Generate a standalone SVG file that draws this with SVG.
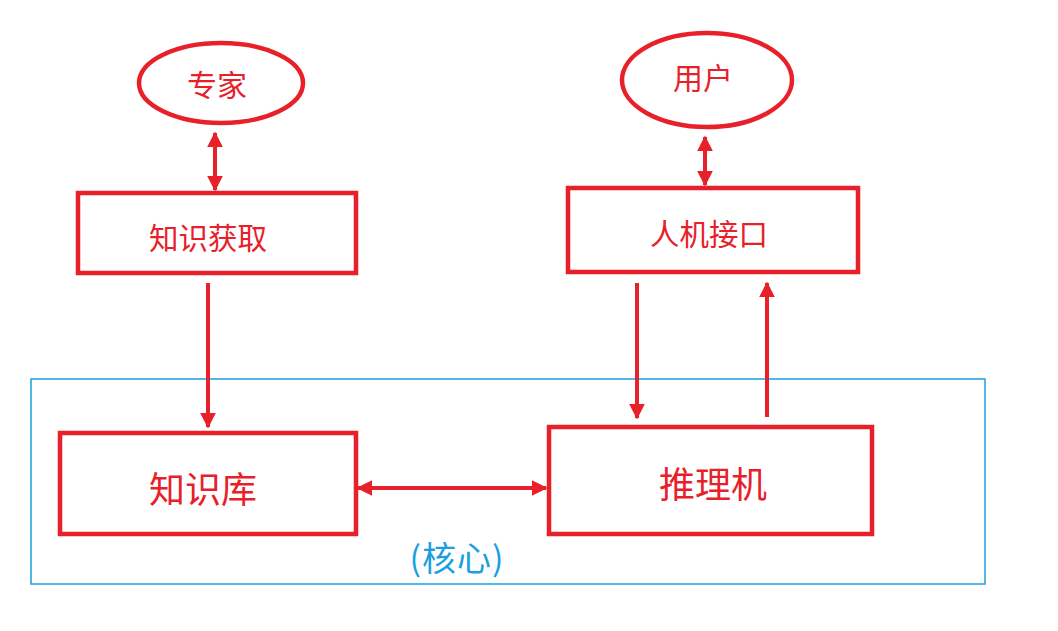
<svg xmlns="http://www.w3.org/2000/svg" width="1058" height="631" viewBox="0 0 1058 631">
<style>
.n{fill:#fff;stroke:#e8202a;stroke-width:4.5}
.t{fill:#e8202a;font-family:"Noto Sans CJK SC",sans-serif;text-anchor:middle;dominant-baseline:central}
.c{stroke:#e8202a;stroke-width:4;fill:none}
</style>
<defs>
<marker id="a" viewBox="0 0 10 10" refX="9" refY="5" markerWidth="4" markerHeight="4" orient="auto-start-reverse" markerUnits="strokeWidth">
<path d="M0,0L10,5L0,10z" fill="#e8202a"/></marker>
</defs>
<rect width="1058" height="631" fill="#fff"/>
<rect x="31" y="379" width="954" height="205" fill="none" stroke="#1a9fe0" stroke-width="1.5"/>
<text x="457" y="556" font-size="34" fill="#1a9fe0" font-family="Noto Sans CJK SC,sans-serif" text-anchor="middle" dominant-baseline="central" letter-spacing="1">(核心)</text>
<g id="expert"><ellipse class="n" cx="221" cy="83" rx="82" ry="40"/><text class="t" x="217" y="83" font-size="30">专家</text></g>
<g id="user"><ellipse class="n" cx="707" cy="80" rx="85" ry="47"/><text class="t" x="703" y="76" font-size="30">用户</text></g>
<g id="acq"><rect class="n" x="78" y="193" width="278" height="80"/><text class="t" x="208" y="236" font-size="29.5">知识获取</text></g>
<g id="ui"><rect class="n" x="568" y="188" width="290" height="84"/><text class="t" x="709" y="232" font-size="29.5">人机接口</text></g>
<g id="kb"><rect class="n" x="60" y="433" width="296" height="101"/><text class="t" x="203" y="487" font-size="36">知识库</text></g>
<g id="inf"><rect class="n" x="549" y="427" width="323" height="107"/><text class="t" x="713" y="482" font-size="36">推理机</text></g>
<g id="connectors">
<line class="c" x1="215" y1="133" x2="215" y2="190" marker-start="url(#a)" marker-end="url(#a)"/>
<line class="c" x1="705" y1="137" x2="705" y2="185" marker-start="url(#a)" marker-end="url(#a)"/>
<line class="c" x1="208" y1="283" x2="208" y2="427" marker-end="url(#a)"/>
<line class="c" x1="637" y1="283" x2="637" y2="418" marker-end="url(#a)"/>
<line class="c" x1="767" y1="417" x2="767" y2="283" marker-end="url(#a)"/>
<line class="c" x1="358" y1="488" x2="546" y2="488" marker-start="url(#a)" marker-end="url(#a)"/>
</g>
</svg>
